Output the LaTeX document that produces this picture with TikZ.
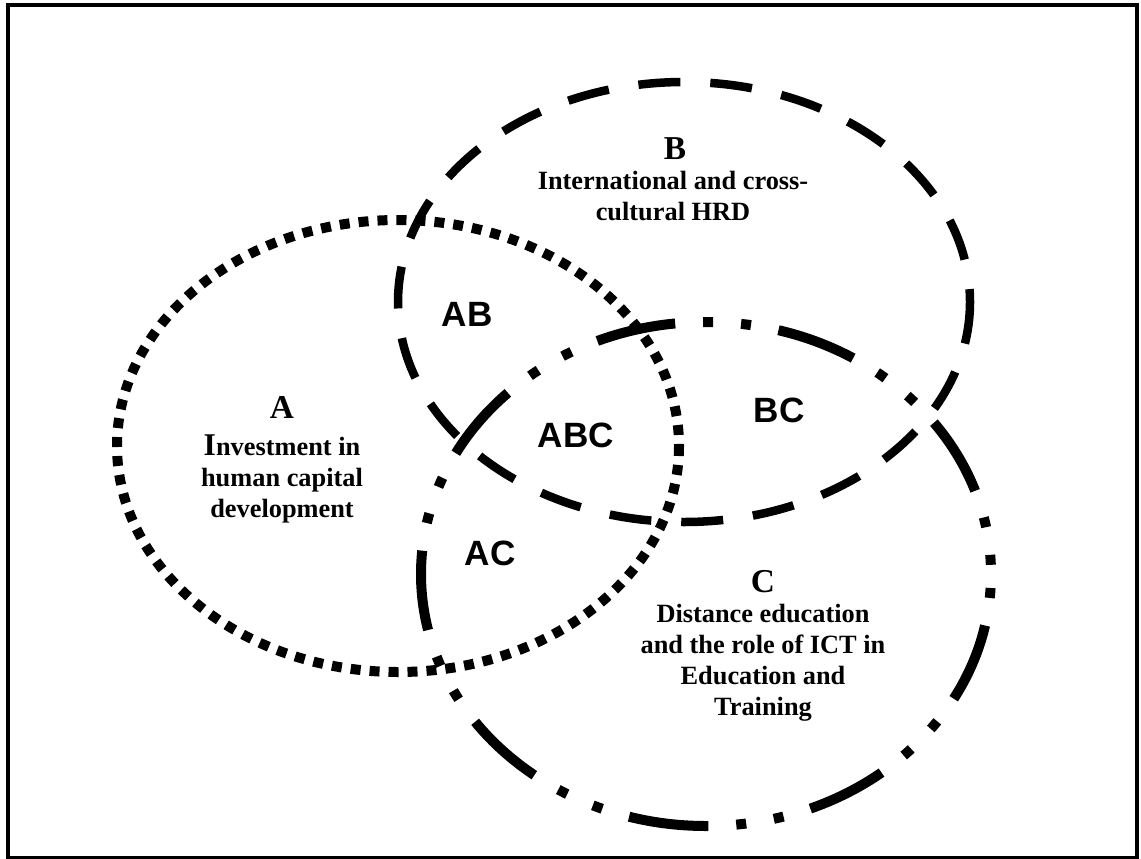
\documentclass[tikz,border=0pt]{standalone}
\usepackage{fontspec}
\setmainfont{Liberation Serif}
\newfontfamily\labelfont{Liberation Sans}
\begin{document}
\begin{tikzpicture}[x=0.02cm,y=-0.02cm]

\tikzstyle{frame} = [draw, line width=0.08cm];
\tikzstyle{setA} = [draw, line width=0.2cm, dash pattern=on 0.2cm off 0.18cm];
\tikzstyle{setB} = [draw, line width=0.17cm, dash pattern=on 0.84cm off 0.6cm];
\tikzstyle{setC} = [draw, line width=0.2cm,
	dash pattern=on 1.6cm off 0.56cm on 0.2cm off 0.56cm on 0.2cm off 0.56cm,
	dash phase=2.64cm];
\tikzstyle{title} = [font=\fontsize{19}{22}\selectfont\bfseries, inner sep=0, anchor=base];
\tikzstyle{desc} = [font=\fontsize{15}{17.5}\selectfont\bfseries, align=center, inner sep=0, anchor=base];
\tikzstyle{overlap} = [font=\labelfont\fontsize{20}{24}\selectfont\bfseries, inner sep=0];

\useasboundingbox (0,0) rectangle (1141,858);
\draw[frame] (8,5) rectangle (1137,858);

% the three sets
\coordinate (cA) at (398,446);
\coordinate (cB) at (684,302);
\coordinate (cC) at (706,574);
\draw[setA] (cA) ellipse [x radius=281, y radius=226];
\draw[setB] (cB) ellipse [x radius=286, y radius=220];
\draw[setC] (cC) ellipse [x radius=285, y radius=252];

% set names (desc nodes sit on the baseline of their last line)
\node[title] (tA) at (282,418) {A};
\node[desc] (dA) at (282,517) {{\fontsize{18}{17.5}\selectfont I}nvestment in\\human capital\\development};
\node[title] (tB) at (675,159) {B};
\node[desc] (dB) at (673,220) {International and cross-\\cultural HRD};
\node[title] (tC) at (763,592) {C};
\node[desc] (dC) at (763,715) {Distance education\\and the role of ICT in\\Education and\\Training};

% overlaps
\node[overlap] (ab) at (467,314) {AB};
\node[overlap] (abc) at (576,435) {ABC};
\node[overlap] (bc) at (779,410) {BC};
\node[overlap] (ac) at (490,553) {AC};

\end{tikzpicture}
\end{document}
